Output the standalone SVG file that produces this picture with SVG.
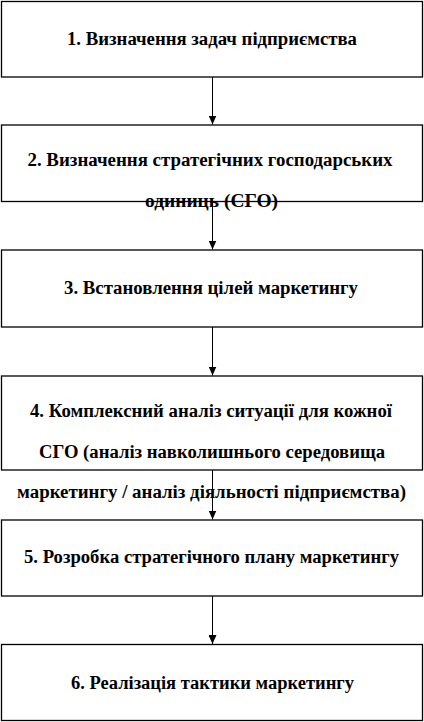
<svg xmlns="http://www.w3.org/2000/svg" width="424" height="722" viewBox="0 0 424 722">
<style>
.box{fill:#fff;stroke:#000;stroke-width:1.3}
.t{font-family:'Liberation Serif','Times New Roman',serif;font-weight:bold;font-size:18px;fill:#000;text-anchor:middle}
.c{stroke:#000;stroke-width:1;fill:none}
</style>
<defs>
<marker id="ah" markerWidth="9" markerHeight="8" refX="9" refY="4" orient="auto" markerUnits="userSpaceOnUse" viewBox="0 0 9 8">
<path d="M0,0 L9,4 L0,8 Z" fill="#000"/>
</marker>
</defs>
<rect width="424" height="722" fill="#fff"/>
<g id="node1"><rect class="box" x="1.5" y="1.5" width="421" height="75.5"/>
<text class="t" x="212" y="45" textLength="290" lengthAdjust="spacingAndGlyphs">1. Визначення задач підприємства</text></g>
<g id="node2"><rect class="box" x="1.5" y="125" width="421" height="76.5"/>
<text class="t" x="210" y="166" textLength="365" lengthAdjust="spacingAndGlyphs">2. Визначення стратегічних господарських</text>
<text class="t" x="211.5" y="207" textLength="133" lengthAdjust="spacingAndGlyphs">одиниць (СГО)</text></g>
<g id="node3"><rect class="box" x="1.5" y="250" width="421" height="77"/>
<text class="t" x="211" y="294" textLength="294" lengthAdjust="spacingAndGlyphs">3. Встановлення цілей маркетингу</text></g>
<g id="node4"><rect class="box" x="1.5" y="376" width="421" height="94"/>
<text class="t" x="211" y="417" textLength="362" lengthAdjust="spacingAndGlyphs">4. Комплексний аналіз ситуації для кожної</text>
<text class="t" x="212" y="458" textLength="346" lengthAdjust="spacingAndGlyphs">СГО (аналіз навколишнього середовища</text>
<text class="t" x="211.5" y="498" textLength="389" lengthAdjust="spacingAndGlyphs">маркетингу / аналіз діяльності підприємства)</text></g>
<g id="node5"><rect class="box" x="1.5" y="520" width="421" height="76"/>
<text class="t" x="211.5" y="563" textLength="375" lengthAdjust="spacingAndGlyphs">5. Розробка стратегічного плану маркетингу</text></g>
<g id="node6"><rect class="box" x="1.5" y="644.5" width="421" height="76"/>
<text class="t" x="212.5" y="689" textLength="283" lengthAdjust="spacingAndGlyphs">6. Реалізація тактики маркетингу</text></g>
<g id="connectors">
<line class="c" x1="212.5" y1="77" x2="212.5" y2="124.5" marker-end="url(#ah)"/>
<line class="c" x1="212.5" y1="201.5" x2="212.5" y2="249.5" marker-end="url(#ah)"/>
<line class="c" x1="212.5" y1="327" x2="212.5" y2="375.5" marker-end="url(#ah)"/>
<line class="c" x1="212.5" y1="470" x2="212.5" y2="519.5" marker-end="url(#ah)"/>
<line class="c" x1="212.5" y1="596" x2="212.5" y2="644" marker-end="url(#ah)"/>
</g>
</svg>
